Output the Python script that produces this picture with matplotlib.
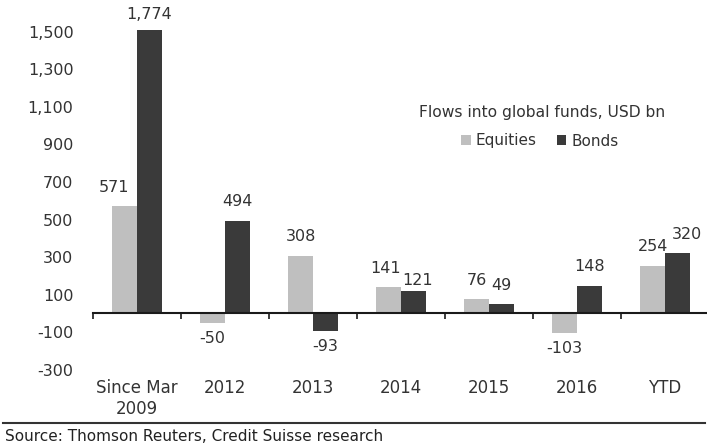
import numpy as np
import matplotlib
matplotlib.use("Agg")
import matplotlib.pyplot as plt
from matplotlib.lines import Line2D

plt.rcParams["font.family"] = ["DejaVu Sans"]

# flows into global funds, USD bn
categories = ["Since Mar\n2009", "2012", "2013", "2014", "2015", "2016", "YTD"]
equities = [571, -50, 308, 141, 76, -103, 254]
bonds = [1774, 494, -93, 121, 49, 148, 320]
yticks = [-300, -100, 100, 300, 500, 700, 900, 1100, 1300, 1500]

EQ_COLOR = "#bfbfbf"
BD_COLOR = "#3a3a3a"
TXT = "#333333"

W, H = 707, 444
fig = plt.figure(figsize=(W / 100, H / 100), dpi=100)
ax = fig.add_axes([93 / W, 1 - 379 / H, 616 / W, 349 / H])

x = np.arange(len(categories))
bw = 0.28
eq_bars = ax.bar(x - bw / 2, equities, bw, color=EQ_COLOR, label="Equities", zorder=2)
bd_bars = ax.bar(x + bw / 2, bonds, bw, color=BD_COLOR, label="Bonds", zorder=2)

ax.set_xlim(-0.5, len(categories) - 0.5)
ax.set_ylim(-350, 1510)
top = ax.get_ylim()[1]

# small nudges (points) for labels that would crowd a neighbour
nudge = {(0, "eq"): (-8, 0), (6, "bd"): (7, 0),
         (3, "eq"): (-2, 0), (3, "bd"): (3, -6)}

for key, xs, vals in (("eq", x - bw / 2, equities), ("bd", x + bw / 2, bonds)):
    for i, (xi, v) in enumerate(zip(xs, vals)):
        if v > top:
            dy = 11
        elif v >= 0:
            dy = 13.5
        else:
            dy = -11.5
        dx, ddy = nudge.get((i, key), (0, 0))
        ax.annotate(f"{v:,}", xy=(xi, min(v, top)), xytext=(dx, dy + ddy),
                    textcoords="offset points", ha="center", va="center",
                    fontsize=11.5, color=TXT, annotation_clip=False)

# y axis: labels only
ax.set_yticks(yticks)
ax.set_yticklabels([f"{t:,}" for t in yticks])
ax.tick_params(axis="y", length=0, pad=14, labelsize=11.5, labelcolor=TXT)

for s in ("left", "right", "top"):
    ax.spines[s].set_visible(False)
ax.spines["bottom"].set_position(("data", 0))
ax.spines["bottom"].set_linewidth(1.5)
ax.spines["bottom"].set_color("#1a1a1a")

# tick marks between categories on the zero line
ax.set_xticks(np.arange(-0.5, len(categories), 1.0))
ax.set_xticklabels([])
ax.tick_params(axis="x", direction="out", length=4, width=1.2, color="#1a1a1a")

# category names along the bottom edge
sec = ax.secondary_xaxis("bottom")
sec.set_xticks(x, labels=categories)
sec.tick_params(length=0, pad=0, labelsize=12, labelcolor=TXT)
sec.spines["bottom"].set_visible(False)

fig.text(542 / W, 1 - 113 / H, "Flows into global funds, USD bn",
         ha="center", va="center", fontsize=11.2, color=TXT)
fig.legend(handles=[eq_bars, bd_bars], loc="center",
           bbox_to_anchor=(540 / W, 1 - 141 / H), ncol=2, frameon=False,
           handlelength=0.6, handleheight=0.6, handletextpad=0.35,
           columnspacing=1.3, fontsize=11, labelcolor=TXT)

fig.add_artist(Line2D([3 / W, 705 / W], [1 - 423 / H] * 2, color="#333333", lw=1.5))
fig.text(5 / W, 1 - 436 / H, "Source: Thomson Reuters, Credit Suisse research",
         ha="left", va="center", fontsize=11, color="#222222")

fig.savefig("out.png", dpi=100)
